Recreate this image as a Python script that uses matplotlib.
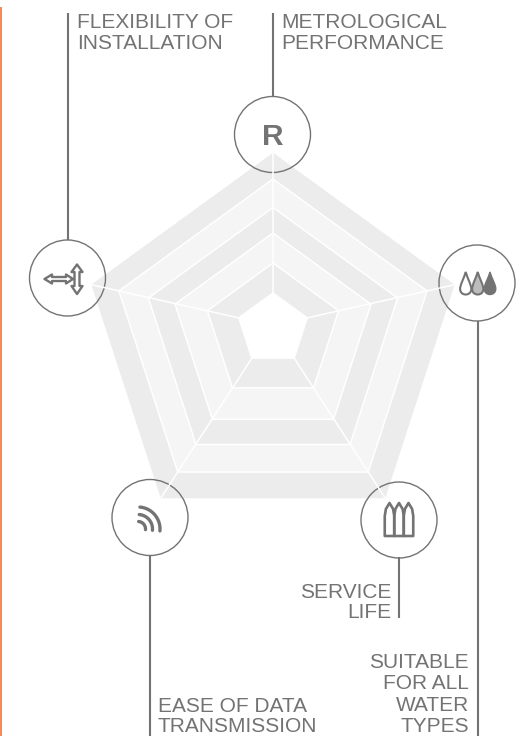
import numpy as np
import matplotlib
matplotlib.use('Agg')
import matplotlib.pyplot as plt
from matplotlib.patches import Circle, Polygon, PathPatch
from matplotlib.path import Path

plt.rcParams['font.family'] = ['Liberation Sans', 'DejaVu Sans']

GREY = '#737373'
BAND_DARK = '#ececec'
BAND_LIGHT = '#f5f5f5'

# radar rings, outer to inner (the rings are not quite concentric in the picture)
ring_radius = [191, 162, 131, 103, 69, 36]
ring_centre_y = [343.7, 341, 338.5, 336, 332, 329]
ring_colour = [BAND_DARK, BAND_LIGHT, BAND_DARK, BAND_LIGHT, BAND_DARK, 'white']
centre_x = 273

# icon circles: top, right, bottom right, bottom left, left
circle_x = [272.5, 477, 399, 150, 67.5]
circle_y = [134.5, 283, 520, 517.5, 278]

# leader lines
leader_x = [272.7, 478, 399, 150, 67.7]
leader_start = [13, 321, 557, 556, 13]
leader_end = [97, 736, 618, 736, 240]

labels = [
    (281, 'left', ['METROLOGICAL', 'PERFORMANCE'], [28, 49]),
    (77, 'left', ['FLEXIBILITY OF', 'INSTALLATION'], [28, 49]),
    (158, 'left', ['EASE OF DATA', 'TRANSMISSION'], [712, 732]),
    (391.5, 'right', ['SERVICE', 'LIFE'], [598, 618]),
    (469, 'right', ['SUITABLE', 'FOR ALL', 'WATER', 'TYPES'], [668, 689, 711, 732]),
]


def pentagon(radius, cy):
    angles = np.radians(90 - 72 * np.arange(5))
    return np.column_stack((centre_x + radius * np.cos(angles),
                            cy - radius * np.sin(angles)))


def drop(cx, top, bottom, half):
    r = half
    cy = bottom - r
    verts = [(cx, top),
             (cx + 0.3 * r, top + 6), (cx + r, cy - 4), (cx + r, cy),
             (cx + r, cy + 0.6 * r), (cx + 0.6 * r, bottom), (cx, bottom),
             (cx - 0.6 * r, bottom), (cx - r, cy + 0.6 * r), (cx - r, cy),
             (cx - r, cy - 4), (cx - 0.3 * r, top + 6), (cx, top), (cx, top)]
    codes = [Path.MOVETO] + [Path.CURVE4] * 12 + [Path.CLOSEPOLY]
    return Path(verts, codes)


fig = plt.figure(figsize=(5.31, 7.36), dpi=100)
ax = fig.add_axes([0, 0, 1, 1])
ax.set_xlim(0, 531)
ax.set_ylim(736, 0)
ax.axis('off')

# orange bar on the left edge
ax.fill_between([0, 2], 7, 736, color='#f58a5b', lw=0)

# bands
for r, cy, col in zip(ring_radius, ring_centre_y, ring_colour):
    ax.add_patch(Polygon(pentagon(r, cy), closed=True, facecolor=col, edgecolor='none'))

# white ring outlines and spokes
pts = [pentagon(r, cy) for r, cy in zip(ring_radius, ring_centre_y)]
for p in pts[1:]:
    ax.add_patch(Polygon(p, closed=True, facecolor='none', edgecolor='white', lw=1.1))
for i in range(5):
    ax.plot([pts[0][i, 0], pts[-1][i, 0]], [pts[0][i, 1], pts[-1][i, 1]],
            color='white', lw=1.1, solid_capstyle='butt')

# leaders and circles
for x, y0, y1 in zip(leader_x, leader_start, leader_end):
    ax.plot([x, x], [y0, y1], color=GREY, lw=1.5, solid_capstyle='butt')
for x, y in zip(circle_x, circle_y):
    ax.add_patch(Circle((x, y), 38, facecolor='none', edgecolor=GREY, lw=1.0))

# labels
for x, ha, lines, baselines in labels:
    for line, y in zip(lines, baselines):
        ax.text(x, y, line, ha=ha, va='baseline', color=GREY, fontsize=15)

# R icon
ax.text(272.5, 145, 'R', ha='center', va='baseline', color=GREY,
        fontsize=21.5, fontweight='bold')

# arrows icon
arrow_h = [(44.5, 279), (52, 274.5), (52, 277), (66, 277), (66, 274.5), (73, 279),
           (66, 283.5), (66, 281), (52, 281), (52, 283.5)]
arrow_v = [(77, 264.5), (82.5, 272), (79.5, 272), (79.5, 286), (82.5, 286), (77, 294),
           (71.5, 286), (74.5, 286), (74.5, 272), (71.5, 272)]
for shape in (arrow_h, arrow_v):
    ax.add_patch(Polygon(shape, closed=True, facecolor='white', edgecolor=GREY,
                         lw=1.7, joinstyle='round'))

# water drops icon
ax.add_patch(PathPatch(drop(465.7, 272, 294.5, 5.6), facecolor='white', edgecolor=GREY, lw=1.5))
ax.add_patch(PathPatch(drop(477.7, 272, 294.5, 5.6), facecolor='#bdbdbd', edgecolor=GREY, lw=1.5))
ax.add_patch(PathPatch(drop(490, 272, 294.5, 5.8), facecolor=GREY, edgecolor=GREY, lw=1.0))

# signal icon
t = np.radians(np.linspace(-5, 85, 30))
for r in (7.5, 14.5, 22):
    ax.plot(138 + r * np.cos(t), 529 - r * np.sin(t), color=GREY, lw=2.4,
            solid_capstyle='round')

# cartridges icon
for x in (389.5, 399, 408.5):
    shell = [(x - 4.75, 536), (x - 4.75, 516), (x - 3.6, 509), (x, 503), (x + 3.6, 509),
             (x + 4.75, 516), (x + 4.75, 536)]
    ax.add_patch(Polygon(shell, closed=True, facecolor='none', edgecolor=GREY,
                         lw=1.9, joinstyle='round'))

fig.savefig('out.png', dpi=100)
